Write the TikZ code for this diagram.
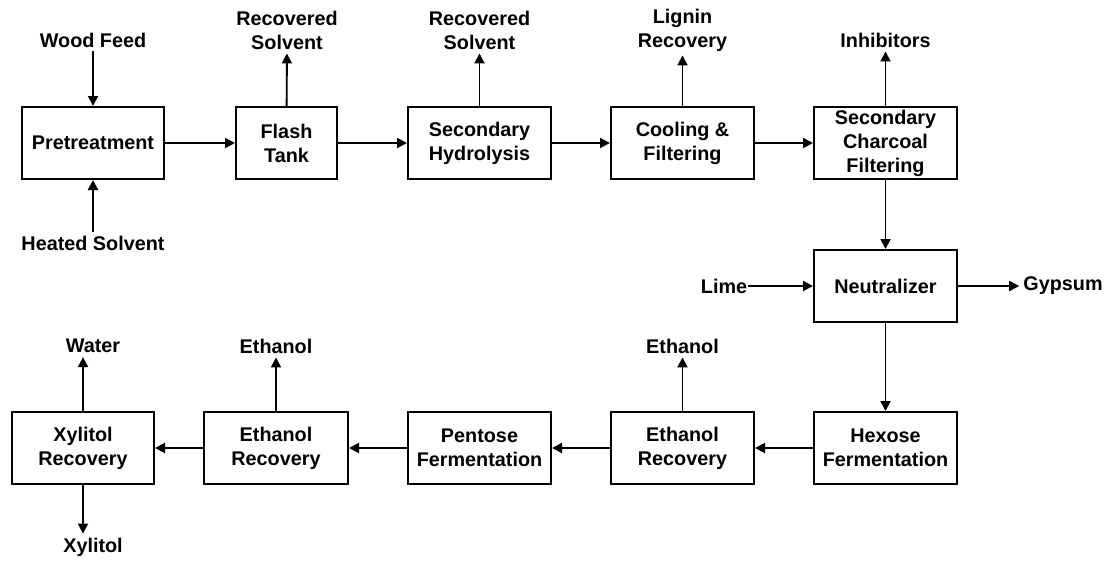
\documentclass[tikz,border=0pt]{standalone}
\usepackage{fontspec}
\setmainfont{Liberation Sans}
\usetikzlibrary{arrows.meta}
\begin{document}
\begin{tikzpicture}[x=1pt,y=-1pt,
  every node/.style={font=\fontsize{19.8}{24}\selectfont\bfseries, align=center},
  unit/.style={draw, line width=2pt, minimum width=143pt, minimum height=72pt, inner sep=0pt},
  stream/.style={inner sep=4pt},
  flow/.style={line width=1.9pt, -{Triangle[length=10pt,width=10pt]}}]
\useasboundingbox (0,0) rectangle (1113,562);
% process units, top row
\node[unit, minimum width=142pt] (pre)   at (93,143)    {Pretreatment};
\node[unit, minimum width=101pt] (flash) at (286.5,143) {Flash\\Tank};
\node[unit] (hyd)   at (479.5,143) {Secondary\\Hydrolysis};
\node[unit] (cool)  at (682.5,143) {Cooling \&\\Filtering};
\node[unit] (char)  at (885.5,143) {Secondary\\Charcoal\\Filtering};
% neutralization
\node[unit] (neu)   at (885.5,286) {Neutralizer};
% process units, bottom row
\node[unit] (hex)   at (885.5,448) {Hexose\\Fermentation};
\node[unit] (eth2)  at (682.5,448) {Ethanol\\Recovery};
\node[unit] (pent)  at (479.5,448) {Pentose\\Fermentation};
\node[unit, minimum width=144pt] (eth1) at (276,448) {Ethanol\\Recovery};
\node[unit, minimum width=142pt] (xyl)  at (83,448)  {Xylitol\\Recovery};
% feed and product streams
\node[stream] (wood)   at (93,40)    {Wood Feed};
\node[stream] (heat)   at (93,243)   {Heated Solvent};
\node[stream] (rs1)    at (287,30)   {Recovered\\Solvent};
\node[stream] (rs2)    at (479.5,30) {Recovered\\Solvent};
\node[stream] (lig)    at (682.5,30) {Lignin\\Recovery};
\node[stream] (inh)    at (885.5,40) {Inhibitors};
\node[stream, inner sep=1pt] (lime) at (724,286) {Lime};
\node[stream] (gyp)    at (1063,286) {Gypsum};
\node[stream] (etho2)  at (682.5,346) {Ethanol};
\node[stream] (etho1)  at (276,346)  {Ethanol};
\node[stream] (water)  at (93,346)   {Water};
\node[stream] (xylo)   at (93,547)   {Xylitol};
% main line
\draw[flow] (pre)   -- (flash);
\draw[flow] (flash) -- (hyd);
\draw[flow] (hyd)   -- (cool);
\draw[flow] (cool)  -- (char);
\draw[flow] (char)  -- (neu);
\draw[flow] (neu)   -- (hex);
\draw[flow] (hex)   -- (eth2);
\draw[flow] (eth2)  -- (pent);
\draw[flow] (pent)  -- (eth1);
\draw[flow] (eth1)  -- (xyl);
% side streams
\draw[flow] (wood)  -- (pre);
\draw[flow] (heat)  -- (pre);
\draw[flow] (flash) -- (rs1);
\draw[flow] (hyd)   -- (rs2);
\draw[flow] (cool)  -- (lig);
\draw[flow] (char)  -- (inh);
\draw[flow] (lime)  -- (neu);
\draw[flow] (neu)   -- (gyp);
\draw[flow] (eth2)  -- (etho2);
\draw[flow] (eth1)  -- (etho1);
\draw[flow] (xyl.north) -- (xyl.north |- water.south);
\draw[flow] (xyl.south) -- (xyl.south |- xylo.north);
\end{tikzpicture}
\end{document}
